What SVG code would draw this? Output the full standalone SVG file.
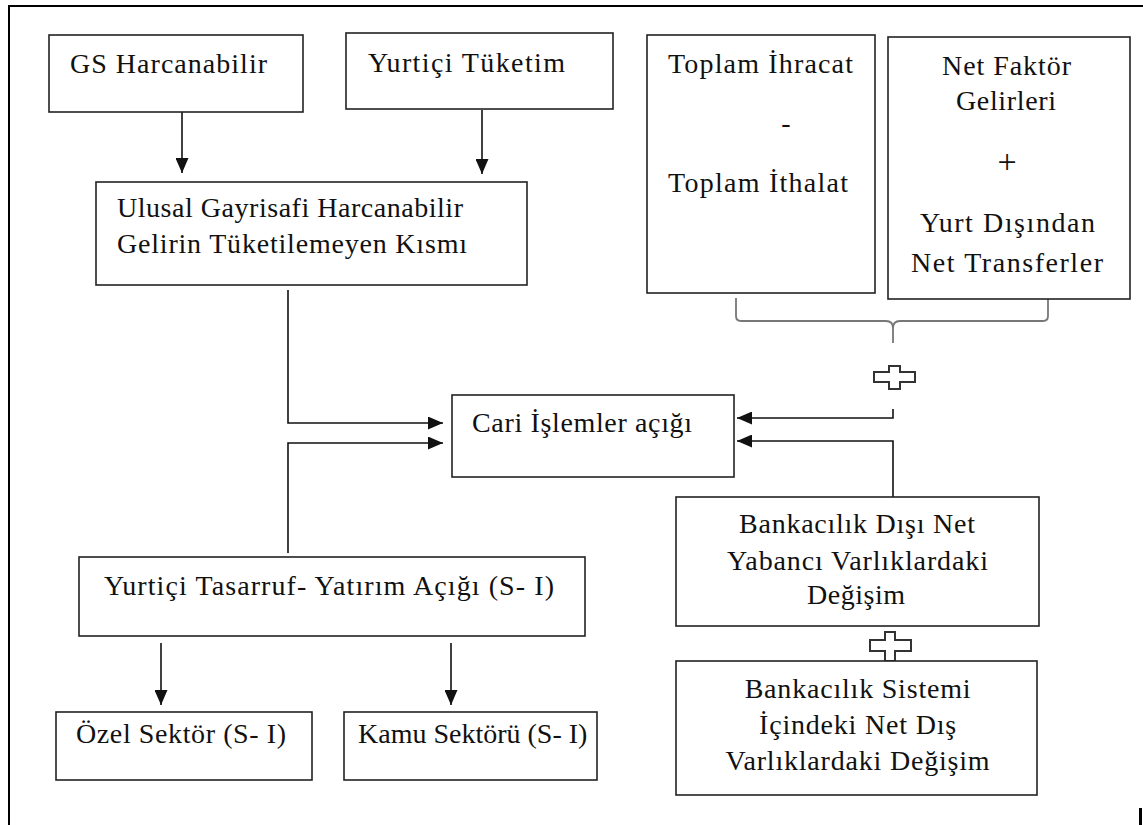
<svg xmlns="http://www.w3.org/2000/svg" width="1143" height="825" viewBox="0 0 1143 825">
<style>
.box{fill:#fff;stroke:#222;stroke-width:1.6}
.t{font-family:"Liberation Serif","Times New Roman",serif;font-size:28px;fill:#111}
.c{fill:none;stroke:#111;stroke-width:1.6}
.g{fill:none;stroke:#777;stroke-width:1.8}
.cross{fill:#fff;stroke:#333;stroke-width:2}
</style>
<defs>
<marker id="ah" markerUnits="userSpaceOnUse" markerWidth="15" markerHeight="13" refX="15" refY="6.5" orient="auto">
<path d="M0,0 L15,6.5 L0,13 Z" fill="#111"/>
</marker>
</defs>
<rect width="1143" height="825" fill="#fff"/>
<g id="frame">
<path d="M8,6 H1143 M9,6 V825" fill="none" stroke="#000" stroke-width="2"/>
<rect x="1139" y="808" width="3" height="17" fill="#000"/>
</g>
<g id="connectors">
<path class="c" d="M182,112 V173" marker-end="url(#ah)"/>
<path class="c" d="M482,110 V174" marker-end="url(#ah)"/>
<path class="c" d="M288,290 V423 H443" marker-end="url(#ah)"/>
<path class="c" d="M288,553 V443 H443" marker-end="url(#ah)"/>
<path class="c" d="M893,409 V418 H737" marker-end="url(#ah)"/>
<path class="c" d="M893,497 V441 H737" marker-end="url(#ah)"/>
<path class="c" d="M161,643 V705" marker-end="url(#ah)"/>
<path class="c" d="M451,643 V705" marker-end="url(#ah)"/>
<path class="g" d="M736,298 V316 Q736,321 741,321 H886 Q893,321 893,328 V343 M893,328 Q893,321 900,321 H1043 Q1048,321 1048,316 V298"/>
<polygon class="cross" points="889,366 900,366 900,372 915,372 915,382 900,382 900,389 889,389 889,382 874,382 874,372 889,372"/>
<polygon class="cross" points="885,632 895,632 895,640 911,640 911,651 895,651 895,661 885,661 885,651 870,651 870,640 885,640"/>
</g>
<g id="gs">
<rect class="box" x="49" y="35" width="254" height="77"/>
<text class="t" x="70" y="73" textLength="197" lengthAdjust="spacing">GS Harcanabilir</text>
</g>
<g id="yurtici">
<rect class="box" x="346" y="33" width="267" height="76"/>
<text class="t" x="368" y="72" textLength="197" lengthAdjust="spacing">Yurtiçi Tüketim</text>
</g>
<g id="ihracat">
<rect class="box" x="647" y="35" width="228" height="258"/>
<text class="t" x="668" y="73" textLength="185" lengthAdjust="spacing">Toplam İhracat</text>
<text class="t" x="786" y="132" text-anchor="middle">-</text>
<text class="t" x="668" y="192" textLength="180" lengthAdjust="spacing">Toplam İthalat</text>
</g>
<g id="faktor">
<rect class="box" x="888" y="37" width="242" height="262"/>
<text class="t" x="942" y="75" textLength="129" lengthAdjust="spacing">Net Faktör</text>
<text class="t" x="956" y="110" textLength="100" lengthAdjust="spacing">Gelirleri</text>
<text class="t" x="1007" y="173" text-anchor="middle" style="font-size:34px">+</text>
<text class="t" x="920" y="232" textLength="175" lengthAdjust="spacing">Yurt Dışından</text>
<text class="t" x="911" y="272" textLength="192" lengthAdjust="spacing">Net Transferler</text>
</g>
<g id="ulusal">
<rect class="box" x="96" y="182" width="431" height="103"/>
<text class="t" x="117" y="217" textLength="346" lengthAdjust="spacing">Ulusal Gayrisafi Harcanabilir</text>
<text class="t" x="117" y="253" textLength="350" lengthAdjust="spacing">Gelirin Tüketilemeyen Kısmı</text>
</g>
<g id="cari">
<rect class="box" x="452" y="395" width="282" height="82"/>
<text class="t" x="472" y="432" textLength="220" lengthAdjust="spacing">Cari İşlemler açığı</text>
</g>
<g id="tasarruf">
<rect class="box" x="79" y="557" width="506" height="79"/>
<text class="t" x="104" y="595" textLength="450" lengthAdjust="spacing">Yurtiçi Tasarruf- Yatırım Açığı (S- I)</text>
</g>
<g id="ozel">
<rect class="box" x="56" y="712" width="256" height="68"/>
<text class="t" x="76" y="743" textLength="210" lengthAdjust="spacing">Özel Sektör (S- I)</text>
</g>
<g id="kamu">
<rect class="box" x="344" y="712" width="253" height="68"/>
<text class="t" x="358" y="743">Kamu Sektörü (S- I)</text>
</g>
<g id="bdisi">
<rect class="box" x="676" y="497" width="363" height="129"/>
<text class="t" x="739" y="533" textLength="236" lengthAdjust="spacing">Bankacılık Dışı Net</text>
<text class="t" x="727" y="570" textLength="261" lengthAdjust="spacing">Yabancı Varlıklardaki</text>
<text class="t" x="807" y="604" textLength="98" lengthAdjust="spacing">Değişim</text>
</g>
<g id="bsistemi">
<rect class="box" x="676" y="661" width="361" height="134"/>
<text class="t" x="858" y="698" text-anchor="middle" letter-spacing="0.8">Bankacılık Sistemi</text>
<text class="t" x="858" y="734" text-anchor="middle" letter-spacing="0.8">İçindeki Net Dış</text>
<text class="t" x="858" y="770" text-anchor="middle" letter-spacing="0.8">Varlıklardaki Değişim</text>
</g>
</svg>
